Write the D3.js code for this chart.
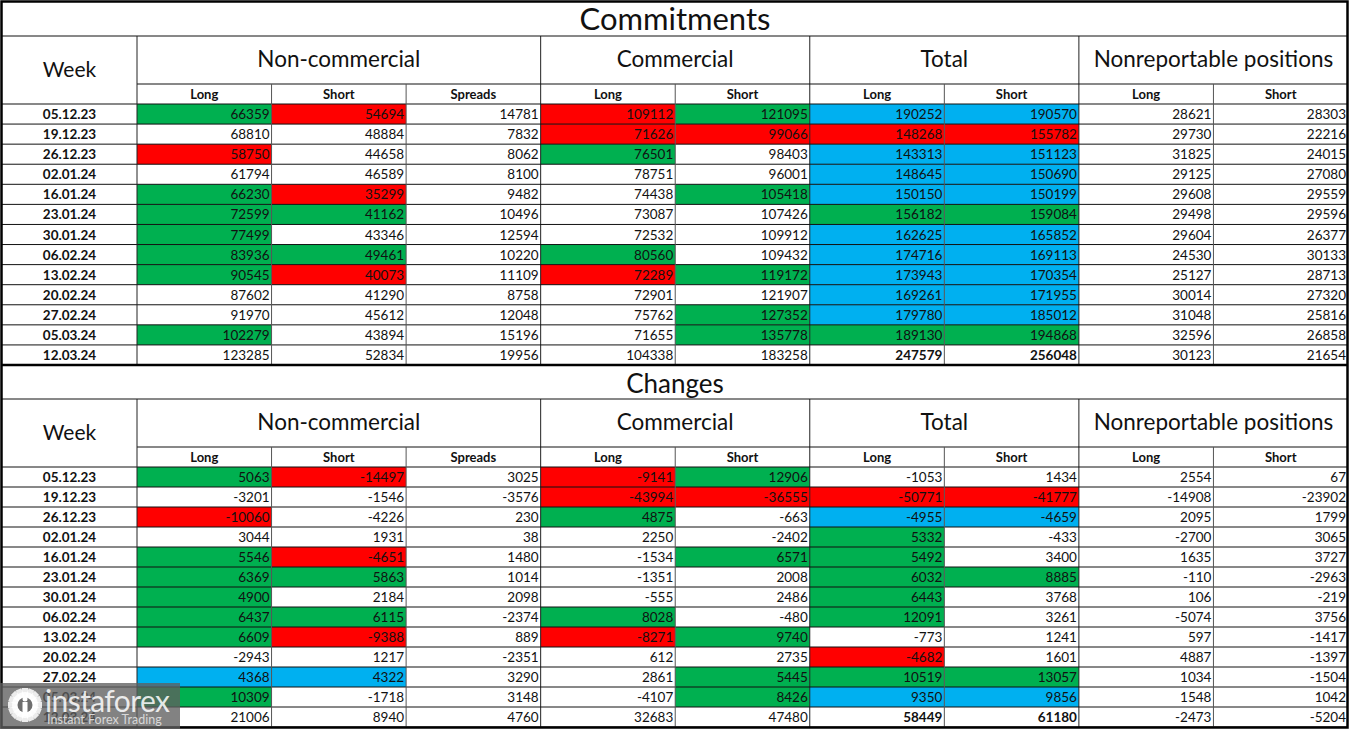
<!DOCTYPE html>
<html>
<head>
<meta charset="utf-8">
<script src="https://cdn.jsdelivr.net/npm/d3@7"></script>
<style>
  html, body { margin: 0; padding: 0; background: #fff; }
  svg { display: block; }
  text { font-family: Lato, "Open Sans", sans-serif; fill: #111; }
</style>
</head>
<body>
<svg id="chart" width="1350" height="729"></svg>
<script>
// ---------- DATA ----------
const weeks = ["05.12.23","19.12.23","26.12.23","02.01.24","16.01.24","23.01.24","30.01.24","06.02.24","13.02.24","20.02.24","27.02.24","05.03.24","12.03.24"];
const groups = ["Non-commercial","Commercial","Total","Nonreportable positions"];
const groupSpans = [3,2,2,2];
const subHeaders = ["Long","Short","Spreads","Long","Short","Long","Short","Long","Short"];

// Commitments
const ncLong    = [66359,68810,58750,61794,66230,72599,77499,83936,90545,87602,91970,102279,123285];
const ncShort   = [54694,48884,44658,46589,35299,41162,43346,49461,40073,41290,45612,43894,52834];
const ncSpreads = [14781,7832,8062,8100,9482,10496,12594,10220,11109,8758,12048,15196,19956];
const cLong     = [109112,71626,76501,78751,74438,73087,72532,80560,72289,72901,75762,71655,104338];
const cShort    = [121095,99066,98403,96001,105418,107426,109912,109432,119172,121907,127352,135778,183258];
const tLong     = [190252,148268,143313,148645,150150,156182,162625,174716,173943,169261,179780,189130,247579];
const tShort    = [190570,155782,151123,150690,150199,159084,165852,169113,170354,171955,185012,194868,256048];
const nrLong    = [28621,29730,31825,29125,29608,29498,29604,24530,25127,30014,31048,32596,30123];
const nrShort   = [28303,22216,24015,27080,29559,29596,26377,30133,28713,27320,25816,26858,21654];
const commitColors = ["gr-rgbb--","---rrrr--","r--g-bb--","-----bb--","gr--gbb--","gg---gg--","g----bb--","gg-g-bb--","gr-rgbb--","-----bb--","----gbb--","g---ggg--","---------"];

// Changes
const chNcLong    = [5063,-3201,-10060,3044,5546,6369,4900,6437,6609,-2943,4368,10309,21006];
const chNcShort   = [-14497,-1546,-4226,1931,-4651,5863,2184,6115,-9388,1217,4322,-1718,8940];
const chNcSpreads = [3025,-3576,230,38,1480,1014,2098,-2374,889,-2351,3290,3148,4760];
const chCLong     = [-9141,-43994,4875,2250,-1534,-1351,-555,8028,-8271,612,2861,-4107,32683];
const chCShort    = [12906,-36555,-663,-2402,6571,2008,2486,-480,9740,2735,5445,8426,47480];
const chTLong     = [-1053,-50771,-4955,5332,5492,6032,6443,12091,-773,-4682,10519,9350,58449];
const chTShort    = [1434,-41777,-4659,-433,3400,8885,3768,3261,1241,1601,13057,9856,61180];
const chNrLong    = [2554,-14908,2095,-2700,1635,-110,106,-5074,597,4887,1034,1548,-2473];
const chNrShort   = [67,-23902,1799,3065,3727,-2963,-219,3756,-1417,-1397,-1504,1042,-5204];
const changeColors = ["gr-rg----","---rrrr--","r--g-bb--","-----g---","gr--gg---","gg---gg--","g----g---","gg-g-g---","gr-rg----","-----r---","bb--ggg--","g---gbb--","---------"];

const sections = [
  {title: "Commitments", titleSize: 31, cols: [ncLong,ncShort,ncSpreads,cLong,cShort,tLong,tShort,nrLong,nrShort], colors: commitColors},
  {title: "Changes", titleSize: 26, cols: [chNcLong,chNcShort,chNcSpreads,chCLong,chCShort,chTLong,chTShort,chNrLong,chNrShort], colors: changeColors}
];
const boldLastCols = [5,6];

// ---------- LAYOUT ----------
const fillMap = {g: "#00B050", r: "#FF0000", b: "#00B0F0"};
const L = 2, R = 1348, weekR = 137;
const x = d3.scaleLinear().domain([0, 9]).range([weekR, R]);
const sectionTops = [2, 365];
const sectionBottoms = [365, 727];

const svg = d3.select("#chart");
const gFill = svg.append("g"), gLine = svg.append("g"), gText = svg.append("g");

function hline(y, x1, x2, w, c) {
  gLine.append("line").attr("x1", x1).attr("x2", x2).attr("y1", y).attr("y2", y)
    .attr("stroke", c || "#111").attr("stroke-width", w || 1);
}
function vline(xx, y1, y2, w, c) {
  gLine.append("line").attr("x1", xx).attr("x2", xx).attr("y1", y1).attr("y2", y2)
    .attr("stroke", c || "#333").attr("stroke-width", w || 1);
}

sections.forEach((sec, si) => {
  const top = sectionTops[si];
  const titleB = top + 34;
  const headB = titleB + 48;
  const subB = headB + 20;
  const bottom = sectionBottoms[si];
  const y = d3.scaleBand().domain(weeks).range([subB, bottom]);

  // Title
  gText.append("text").attr("x", (L + R) / 2).attr("y", top + 28)
    .attr("text-anchor", "middle").attr("font-size", sec.titleSize).text(sec.title);

  // Week header
  gText.append("text").attr("x", (L + weekR) / 2).attr("y", (titleB + subB) / 2 + 7)
    .attr("text-anchor", "middle").attr("font-size", 21).text("Week");

  // Group headers
  let c0 = 0;
  groups.forEach((gname, gi) => {
    const c1 = c0 + groupSpans[gi];
    gText.append("text").attr("x", (x(c0) + x(c1)) / 2).attr("y", (titleB + headB) / 2 + 7)
      .attr("text-anchor", "middle").attr("font-size", 22.5).text(gname);
    if (gi > 0) vline(x(c0), titleB, bottom, 1, "#222");
    c0 = c1;
  });

  // Sub headers
  subHeaders.forEach((s, ci) => {
    gText.append("text").attr("x", (x(ci) + x(ci + 1)) / 2).attr("y", subB - 5)
      .attr("text-anchor", "middle").attr("font-size", 13).attr("font-weight", "bold").text(s);
  });

  // Cells
  weeks.forEach((wk, ri) => {
    const yy = y(wk), h = y.bandwidth();
    gText.append("text").attr("x", (L + weekR) / 2).attr("y", yy + h / 2 + 5)
      .attr("text-anchor", "middle").attr("font-size", 13.5).attr("font-weight", "bold").text(wk);
    sec.cols.forEach((col, ci) => {
      const code = sec.colors[ri][ci];
      if (fillMap[code]) {
        gFill.append("rect").attr("x", x(ci)).attr("y", yy).attr("width", x(ci + 1) - x(ci)).attr("height", h)
          .attr("fill", fillMap[code]);
      }
      const bold = ri === weeks.length - 1 && boldLastCols.includes(ci);
      gText.append("text").attr("x", x(ci + 1) - 2).attr("y", yy + h / 2 + 5)
        .attr("text-anchor", "end").attr("font-size", 13.5)
        .attr("font-weight", bold ? "bold" : "normal")
        .attr("fill", code === "r" ? "#3a0000" : "#111")
        .text(col[ri]);
    });
    hline(yy + h, L, R, 1, "#111");
  });

  // Lines
  hline(titleB, L, R, 1, "#111");
  hline(headB, weekR, R, 1, "#111");
  hline(subB, L, R, 1, "#111");
  vline(weekR, titleB, bottom, 1, "#222");
  for (let ci = 1; ci < 9; ci++) {
    if ([3, 5, 7].includes(ci)) continue;
    vline(x(ci), headB, bottom, 1, "#555");
  }
});

// Section separator and outer border
hline(365, L, R, 2.5, "#000");
gLine.append("rect").attr("x", 1.5).attr("y", 1.5).attr("width", 1346).attr("height", 726)
  .attr("fill", "none").attr("stroke", "#000").attr("stroke-width", 2.5);

// ---------- WATERMARK ----------
const wm = svg.append("g");
wm.append("rect").attr("x", 0).attr("y", 683).attr("width", 180).attr("height", 46)
  .attr("fill", "rgb(95,95,95)").attr("fill-opacity", 0.78);
// gear icon
const gear = wm.append("g").attr("transform", "translate(25,705)");
d3.range(8).forEach(i => {
  gear.append("rect").attr("x", -3).attr("y", -17).attr("width", 6).attr("height", 34)
    .attr("fill", "#fff").attr("fill-opacity", 0.85).attr("transform", `rotate(${i * 22.5})`);
});
gear.append("circle").attr("r", 13).attr("fill", "#fff").attr("fill-opacity", 0.85);
gear.append("circle").attr("r", 7.5).attr("fill", "rgb(110,110,110)");
gear.append("rect").attr("x", -2.5).attr("y", -3).attr("width", 5).attr("height", 14).attr("fill", "#fff");
gear.append("circle").attr("cy", -6).attr("r", 2.5).attr("fill", "#fff");
wm.append("text").attr("x", 45).attr("y", 712).attr("font-size", 30)
  .attr("font-family", "'Open Sans', sans-serif").style("fill", "#fff").attr("fill-opacity", 0.85)
  .attr("letter-spacing", -0.6).text("instaforex");
wm.append("text").attr("x", 47).attr("y", 724).attr("font-size", 12.5)
  .attr("font-family", "'Open Sans', sans-serif").style("fill", "#d8d8d8").text("Instant Forex Trading");
</script>
</body>
</html>
